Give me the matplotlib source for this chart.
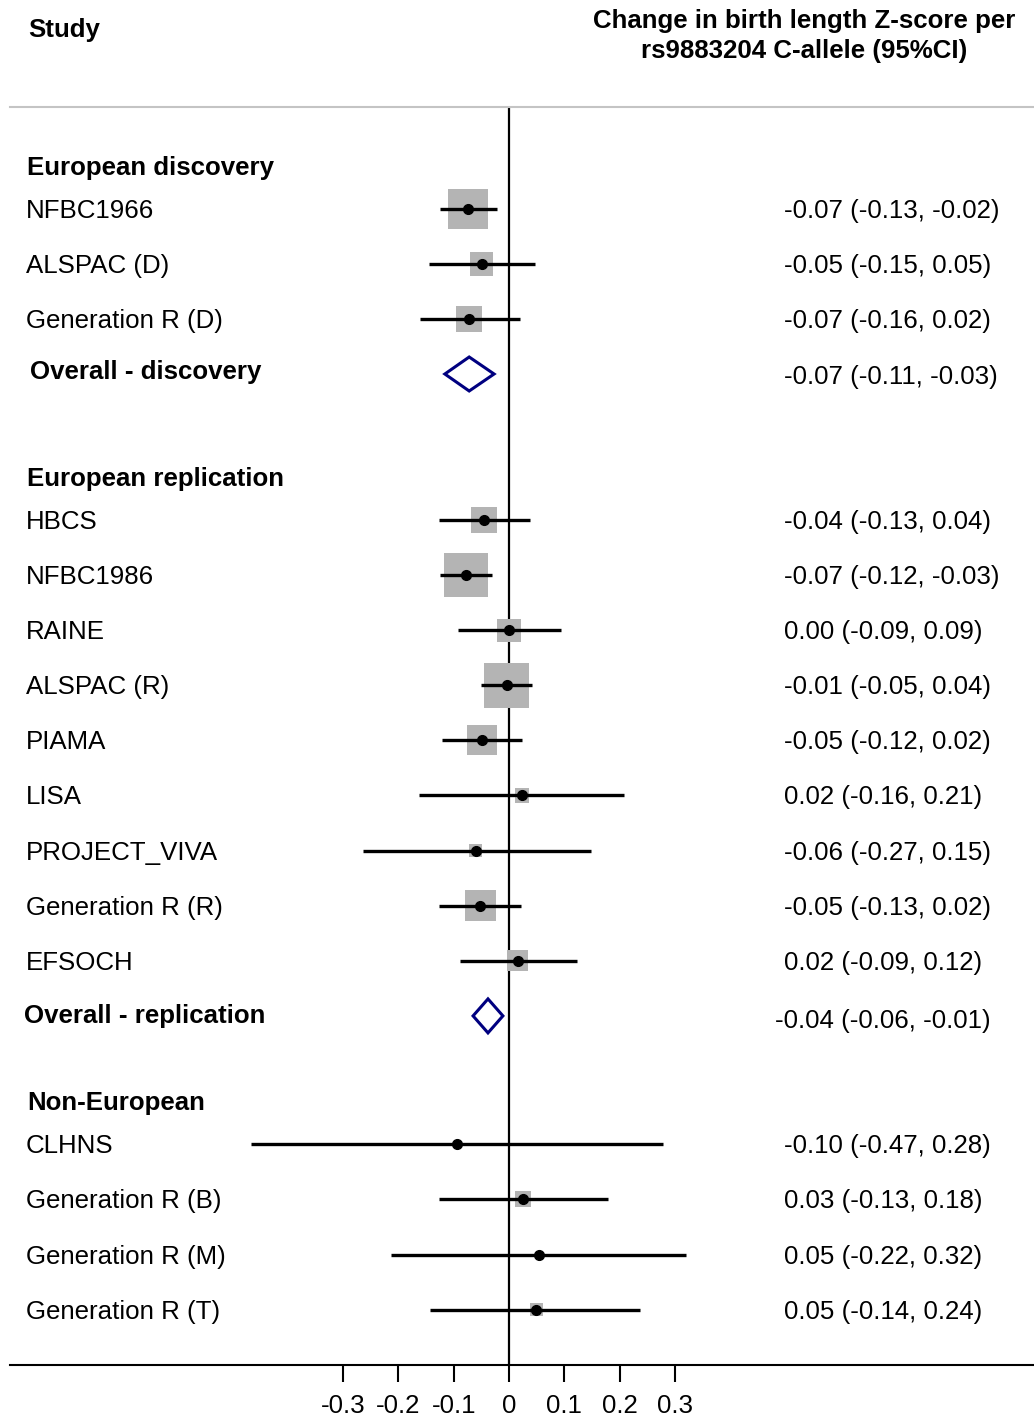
import matplotlib
matplotlib.use("Agg")
import matplotlib.pyplot as plt
from matplotlib.patches import Polygon
from matplotlib.transforms import blended_transform_factory

plt.rcParams['font.family'] = ['Liberation Sans', 'DejaVu Sans']

# ---------------- data ----------------
disc_studies = ["NFBC1966", "ALSPAC (D)", "Generation R (D)"]
disc_est = [-0.074, -0.049, -0.072]
disc_lo = [-0.125, -0.145, -0.161]
disc_hi = [-0.022, 0.047, 0.020]
disc_weight = [16.0, 5.3, 6.8]
disc_text = ["-0.07 (-0.13, -0.02)", "-0.05 (-0.15, 0.05)", "-0.07 (-0.16, 0.02)"]
disc_overall = [-0.072, -0.116, -0.027]
disc_overall_text = "-0.07 (-0.11, -0.03)"

rep_studies = ["HBCS", "NFBC1986", "RAINE", "ALSPAC (R)", "PIAMA", "LISA",
               "PROJECT_VIVA", "Generation R (R)", "EFSOCH"]
rep_est = [-0.045, -0.078, 0.000, -0.004, -0.049, 0.023, -0.060, -0.052, 0.016]
rep_lo = [-0.127, -0.125, -0.092, -0.051, -0.121, -0.163, -0.264, -0.127, -0.089]
rep_hi = [0.038, -0.031, 0.094, 0.042, 0.024, 0.208, 0.148, 0.022, 0.123]
rep_weight = [6.8, 19.4, 5.3, 20.3, 9.0, 2.0, 1.7, 9.6, 4.4]
rep_text = ["-0.04 (-0.13, 0.04)", "-0.07 (-0.12, -0.03)", "0.00 (-0.09, 0.09)",
            "-0.01 (-0.05, 0.04)", "-0.05 (-0.12, 0.02)", "0.02 (-0.16, 0.21)",
            "-0.06 (-0.27, 0.15)", "-0.05 (-0.13, 0.02)", "0.02 (-0.09, 0.12)"]
rep_overall = [-0.038, -0.065, -0.011]
rep_overall_text = "-0.04 (-0.06, -0.01)"

ne_studies = ["CLHNS", "Generation R (B)", "Generation R (M)", "Generation R (T)"]
ne_est = [-0.094, 0.025, 0.054, 0.049]
ne_lo = [-0.467, -0.127, -0.213, -0.143]
ne_hi = [0.278, 0.179, 0.320, 0.237]
ne_weight = [0.15, 2.6, 0.25, 1.7]
ne_text = ["-0.10 (-0.47, 0.28)", "0.03 (-0.13, 0.18)", "0.05 (-0.22, 0.32)",
           "0.05 (-0.14, 0.24)"]

section_titles = ["European discovery", "European replication", "Non-European"]
overall_labels = ["Overall - discovery", "Overall - replication"]
tick_vals = [-0.3, -0.2, -0.1, 0, 0.1, 0.2, 0.3]
tick_labels = ["-0.3", "-0.2", "-0.1", "0", "0.1", "0.2", "0.3"]

# ---------------- layout ----------------
W, H = 1034, 1418
ZERO_PX, SCALE = 509, 553.0
FS = 18.6

fig = plt.figure(figsize=(W / 100, H / 100), dpi=100)
ax = fig.add_axes([10 / W, (H - 1365) / H, (W - 10) / W, (1365 - 107) / H])
ax.set_xlim((10 - ZERO_PX) / SCALE, (W - ZERO_PX) / SCALE)
ax.set_ylim(1365, 107)

trans = blended_transform_factory(fig.transFigure, ax.transData)

def xfig(px):
    return px / W

sections = [
    dict(start=209, step=55.0, studies=disc_studies, est=disc_est, lo=disc_lo,
         hi=disc_hi, w=disc_weight, txt=disc_text, overall=disc_overall,
         otxt=disc_overall_text, olabel=overall_labels[0], olx=30, otx=784, oly=-4, oty=1),
    dict(start=520, step=55.1, studies=rep_studies, est=rep_est, lo=rep_lo,
         hi=rep_hi, w=rep_weight, txt=rep_text, overall=rep_overall,
         otxt=rep_overall_text, olabel=overall_labels[1], olx=24, otx=775, oly=-2, oty=3),
    dict(start=1144, step=55.3, studies=ne_studies, est=ne_est, lo=ne_lo,
         hi=ne_hi, w=ne_weight, txt=ne_text, overall=None),
]

ax.axvline(0, color='black', lw=1.6, zorder=1)

for title, sec in zip(section_titles, sections):
    n = len(sec['studies'])
    ys = [sec['start'] + i * sec['step'] for i in range(n)]
    ax.text(xfig(27), sec['start'] - 43 + 9, title, transform=trans,
            fontsize=FS, fontweight='bold', ha='left', va='baseline')
    sizes = [((w ** 0.5) * 10 * 0.72) ** 2 for w in sec['w']]
    ax.scatter(sec['est'], ys, marker='s', s=sizes, color='#b4b4b4',
               linewidths=0, zorder=2)
    ax.hlines(ys, sec['lo'], sec['hi'], color='black', lw=2.4, zorder=3)
    ax.plot(sec['est'], ys, 'o', color='black', ms=7, zorder=4)
    for y, name, t in zip(ys, sec['studies'], sec['txt']):
        ax.text(xfig(26), y + 9, name, transform=trans, fontsize=FS,
                ha='left', va='baseline')
        ax.text(xfig(784), y + 9, t, transform=trans, fontsize=FS,
                ha='left', va='baseline')
    if sec['overall'] is not None:
        yo = sec['start'] + n * sec['step']
        e, l, h = sec['overall']
        ax.add_patch(Polygon([(l, yo), (e, yo - 17), (h, yo), (e, yo + 17)],
                             closed=True, fill=False, edgecolor='#000080',
                             lw=2.2, zorder=3))
        ax.text(xfig(sec['olx']), yo + sec['oly'] + 9, sec['olabel'],
                transform=trans, fontsize=FS, fontweight='bold',
                ha='left', va='baseline')
        ax.text(xfig(sec['otx']), yo + sec['oty'] + 9, sec['otxt'],
                transform=trans, fontsize=FS, ha='left', va='baseline')

# axes styling
for side in ['left', 'right']:
    ax.spines[side].set_visible(False)
ax.spines['top'].set_color('#c4c4c4')
ax.spines['top'].set_linewidth(1.5)
ax.spines['bottom'].set_color('black')
ax.spines['bottom'].set_linewidth(1.5)
ax.set_yticks([])
ax.set_xticks(tick_vals)
ax.set_xticklabels(tick_labels)
ax.tick_params(axis='x', direction='out', length=12, width=1.5, pad=9,
               labelsize=FS, colors='black')

# headers
fig.text(xfig(28), 1 - 30 / H, "Study", fontsize=FS, fontweight='bold',
         ha='left', va='center')
fig.text(xfig(804), 1 - 21 / H, "Change in birth length Z-score per",
         fontsize=FS, fontweight='bold', ha='center', va='center')
fig.text(xfig(804), 1 - 51 / H, "rs9883204 C-allele (95%CI)",
         fontsize=FS, fontweight='bold', ha='center', va='center')

fig.savefig("out.png", dpi=100, facecolor='white')
